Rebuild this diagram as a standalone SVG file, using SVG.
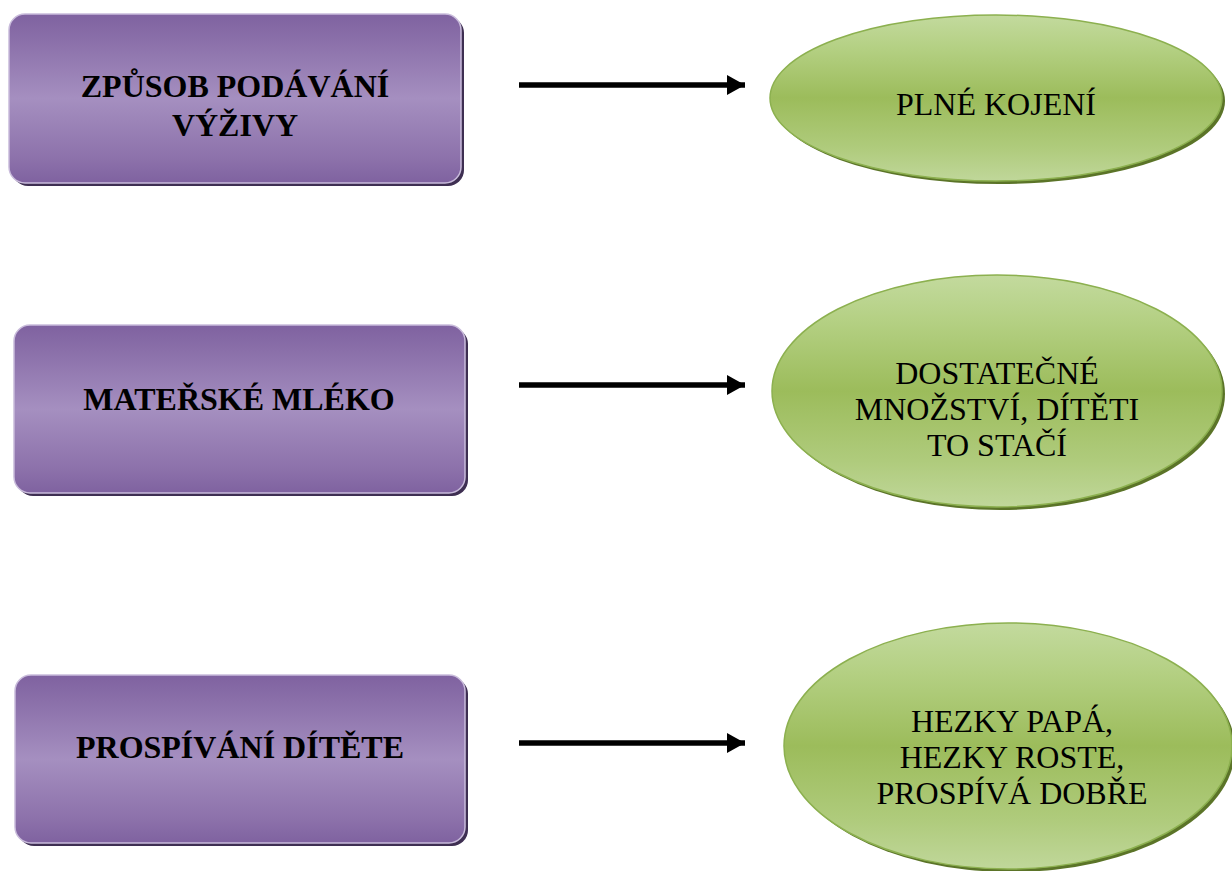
<svg xmlns="http://www.w3.org/2000/svg" width="1232" height="871" viewBox="0 0 1232 871">
<defs>
<linearGradient id="gp" x1="0" y1="0" x2="0" y2="1">
<stop offset="0" stop-color="#7f62a0"/>
<stop offset="0.15" stop-color="#8a6fa9"/>
<stop offset="0.5" stop-color="#a58fc0"/>
<stop offset="0.85" stop-color="#8d72ab"/>
<stop offset="1" stop-color="#7f62a0"/>
</linearGradient>
<linearGradient id="gg" x1="0" y1="0" x2="0" y2="1">
<stop offset="0" stop-color="#c3da9e"/>
<stop offset="0.2" stop-color="#b4d083"/>
<stop offset="0.5" stop-color="#9cbc5b"/>
<stop offset="0.8" stop-color="#afcb7c"/>
<stop offset="1" stop-color="#c0d79a"/>
</linearGradient>
<marker id="ah" markerUnits="userSpaceOnUse" markerWidth="20" markerHeight="22" refX="18" refY="10" orient="auto">
<polygon points="0,0 18,10 0,20" fill="#000"/>
</marker>
<style>
.box{fill:url(#gp);stroke:#c9bcdb;stroke-width:1.5}
.bsh{fill:#3e2f52}
.ell{fill:url(#gg);stroke:#8cb04f;stroke-width:1.5}
.esh{fill:#5b7428}
.bt{font-family:"Liberation Serif","Times New Roman",serif;font-weight:bold;font-size:32px;fill:#000;text-anchor:middle}
.et{font-family:"Liberation Serif","Times New Roman",serif;font-size:32px;fill:#000;text-anchor:middle}
.conn{stroke:#000;stroke-width:5.5;fill:none;marker-end:url(#ah)}
</style>
</defs>
<rect width="1232" height="871" fill="#fff"/>

<g id="box1">
<rect class="bsh" x="12" y="17" width="452" height="169" rx="16"/>
<rect class="box" x="9" y="14" width="452" height="169" rx="16"/>
<text class="bt" x="235" y="97">ZPŮSOB PODÁVÁNÍ</text>
<text class="bt" x="235" y="136">VÝŽIVY</text>
</g>

<g id="box2">
<rect class="bsh" x="17" y="328" width="451" height="168" rx="16"/>
<rect class="box" x="14" y="325" width="451" height="168" rx="16"/>
<text class="bt" x="239" y="410">MATEŘSKÉ MLÉKO</text>
</g>

<g id="box3">
<rect class="bsh" x="18" y="678" width="450" height="168" rx="16"/>
<rect class="box" x="15" y="675" width="450" height="168" rx="16"/>
<text class="bt" x="240" y="758">PROSPÍVÁNÍ DÍTĚTE</text>
</g>

<g id="ell1">
<ellipse class="esh" cx="999" cy="101" rx="226" ry="83"/>
<ellipse class="ell" cx="996" cy="98" rx="226" ry="83"/>
<text class="et" x="996" y="115">PLNÉ KOJENÍ</text>
</g>

<g id="ell2">
<ellipse class="esh" cx="1000" cy="394" rx="225" ry="116"/>
<ellipse class="ell" cx="997" cy="391" rx="225" ry="116"/>
<text class="et" x="997" y="384">DOSTATEČNÉ</text>
<text class="et" x="997" y="420">MNOŽSTVÍ, DÍTĚTI</text>
<text class="et" x="997" y="456">TO STAČÍ</text>
</g>

<g id="ell3">
<ellipse class="esh" cx="1011" cy="749" rx="224" ry="123"/>
<ellipse class="ell" cx="1008" cy="746" rx="224" ry="123"/>
<text class="et" x="1012" y="732">HEZKY PAPÁ,</text>
<text class="et" x="1012" y="768">HEZKY ROSTE,</text>
<text class="et" x="1012" y="804">PROSPÍVÁ DOBŘE</text>
</g>

<g id="connectors">
<line class="conn" x1="519" y1="85" x2="745" y2="85"/>
<line class="conn" x1="519" y1="385" x2="745" y2="385"/>
<line class="conn" x1="519" y1="743" x2="745" y2="743"/>
</g>
</svg>
